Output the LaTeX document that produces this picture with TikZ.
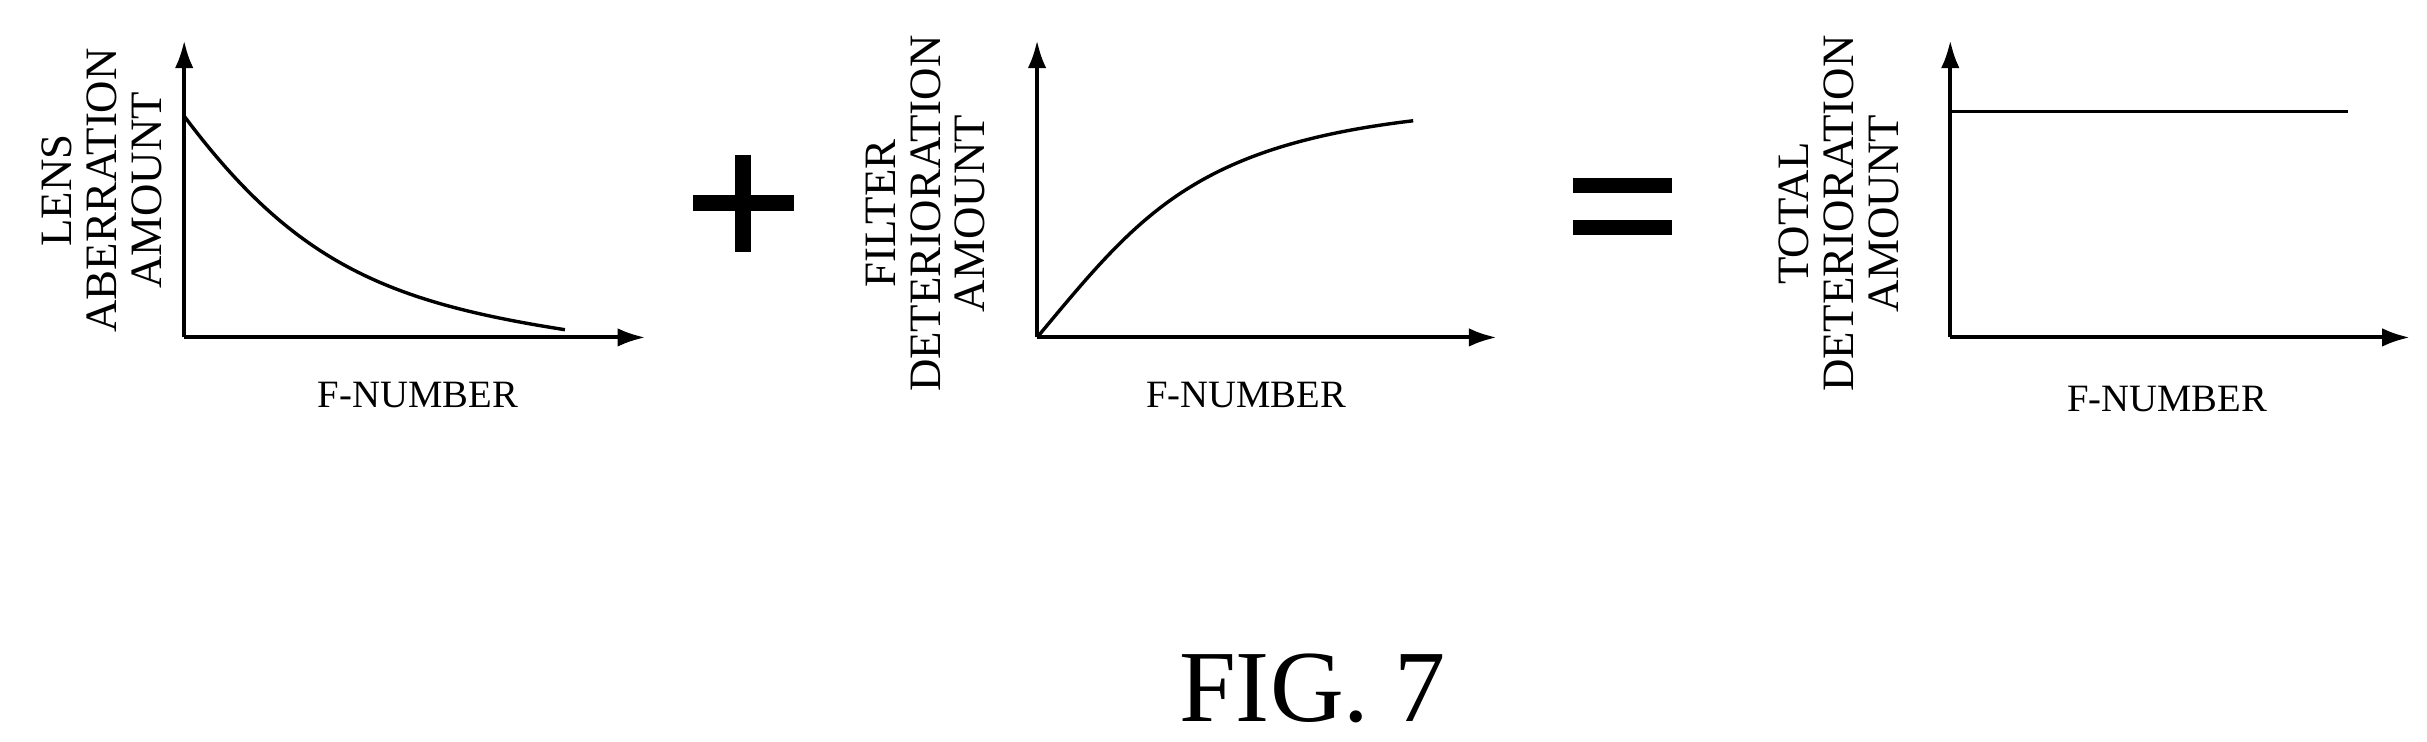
\documentclass[tikz,border=0pt]{standalone}
\usepackage{fontspec}
\setmainfont{Liberation Serif}
\usetikzlibrary{arrows.meta}
\begin{document}
\begin{tikzpicture}[x=0.5pt,y=-0.5pt,
  ax/.style={line width=1.3pt,-{Latex[length=9pt,width=6pt]}},
  crv/.style={line width=1.1pt},
  lbl/.style={font=\fontsize{14.5}{14.5}\selectfont,align=center},
  fl/.style={font=\fontsize{12.5}{14}\selectfont},
  bar/.style={line width=5pt}]
\useasboundingbox (0,0) rectangle (1568,479);
% plot 1
\coordinate (o1) at (119,218);
\coordinate (y1) at (119,26);
\coordinate (x1) at (417,218);
\draw[ax] (o1) -- (y1);
\draw[ax] (o1) -- (x1);
\draw[crv] (119,75) .. controls (190,170) and (250,195) .. (365,213);
\node[lbl,rotate=90] (l1) at (66,123) {LENS\\ABERRATION\\AMOUNT};
\node[fl] (f1) at (270,255) {F-NUMBER};
% plus
\draw[bar] (448,131) -- (513,131);
\draw[bar] (480,100) -- (480,163);
% plot 2
\coordinate (o2) at (670,218);
\coordinate (y2) at (670,26);
\coordinate (x2) at (967,218);
\draw[ax] (o2) -- (y2);
\draw[ax] (o2) -- (x2);
\draw[crv] (670,218) .. controls (735,140) and (770,95) .. (913,78);
\node[lbl,rotate=90] (l2) at (598,138) {FILTER\\DETERIORATION\\AMOUNT};
\node[fl] (f2) at (805,255) {F-NUMBER};
% equals
\draw[bar] (1016,120) -- (1080,120);
\draw[bar] (1016,147) -- (1080,147);
% plot 3
\coordinate (o3) at (1260,218);
\coordinate (y3) at (1260,26);
\coordinate (x3) at (1557,218);
\draw[ax] (o3) -- (y3);
\draw[ax] (o3) -- (x3);
\draw[crv] (1260,72) -- (1517,72);
\node[lbl,rotate=90] (l3) at (1188,138) {TOTAL\\DETERIORATION\\AMOUNT};
\node[fl] (f3) at (1400,258) {F-NUMBER};
\node[font=\fontsize{33}{36}\selectfont] (fig) at (848,445) {FIG. 7};
\end{tikzpicture}
\end{document}
